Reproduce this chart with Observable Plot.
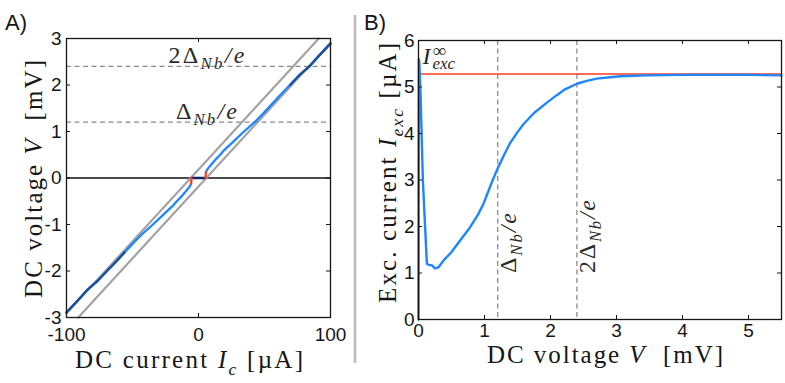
<!DOCTYPE html>
<html><head><meta charset="utf-8">
<script src="https://cdn.jsdelivr.net/npm/d3@7"></script>
<script src="https://cdn.jsdelivr.net/npm/@observablehq/plot@0.6"></script>
<style>
html,body{margin:0;padding:0;background:#fff;}
#wrap{position:relative;width:785px;height:383px;overflow:hidden;background:#fff;}
#wrap svg{position:absolute;top:0;}
</style></head><body><div id="wrap"></div>
<script>
// ---------- data ----------
// Panel A: current–voltage characteristic
const currentTicks = [-100, 0, 100];
const voltageTicksA = [-3, -2, -1, 0, 1, 2, 3];
const gapVoltages = [1.2, 2.4];
const gapLabelPrefix = ["Δ", "2Δ"];

const ivCurrentPos = [5.6, 6.5, 8, 10, 13, 16.5, 19.5, 27, 34.5, 42.5, 49.5, 56, 62.5, 69.3, 76, 84, 92, 100];
const ivVoltagePos = [0.12, 0.18, 0.23, 0.3, 0.4, 0.5, 0.6, 0.8, 1.0, 1.2, 1.4, 1.6, 1.8, 2.0, 2.2, 2.4, 2.65, 2.89];
const ivCurrentNeg = [-5.6, -6.5, -8, -10, -13, -16.5, -19.5, -27, -34.5, -42.5, -49.5, -56, -62.5, -69.3, -76, -84, -92, -100];
const ivVoltageNeg = [-0.12, -0.18, -0.23, -0.3, -0.4, -0.5, -0.6, -0.8, -1.0, -1.2, -1.4, -1.6, -1.8, -2.0, -2.2, -2.4, -2.65, -2.89];
const superCurrent = [-5.3, 5.3];
const superVoltage = [0, 0];
const jumpPosCurrent = [5.3, 5.6];
const jumpPosVoltage = [0, 0.12];
const jumpNegCurrent = [-5.3, -5.6];
const jumpNegVoltage = [0, -0.12];
const ohmicUpperCurrent = [-100, 91.1];
const ohmicUpperVoltage = [-2.91, 3];
const ohmicLowerCurrent = [-91.1, 100];
const ohmicLowerVoltage = [-3, 2.91];

// Panel B: excess current vs voltage
const voltageTicksB = [0, 1, 2, 3, 4, 5];
const excTicks = [0, 1, 2, 3, 4, 5, 6];
const excVoltage = [0, 0.005, 0.012, 0.03, 0.066, 0.127, 0.16, 0.2, 0.25, 0.3, 0.38, 0.5, 0.63, 0.78, 0.9, 0.985, 1.11, 1.2, 1.3, 1.39, 1.5, 1.59, 1.75, 1.95, 2.1, 2.22, 2.4, 2.55, 2.7, 2.9, 3.06, 3.46, 4.0, 4.5, 5.0, 5.5];
const excCurrent = [0, 5.6, 5.55, 4.9, 3.0, 1.2, 1.17, 1.17, 1.1, 1.12, 1.27, 1.45, 1.7, 1.98, 2.25, 2.49, 2.95, 3.25, 3.55, 3.8, 4.03, 4.2, 4.44, 4.67, 4.83, 4.95, 5.07, 5.13, 5.18, 5.21, 5.23, 5.25, 5.26, 5.26, 5.26, 5.25];
const excInfinity = 5.28;

// ---------- helpers ----------
const pts = (xs, ys) => xs.map((x, i) => ({x, y: ys[i]}));
const serif = "'Liberation Serif', 'Times New Roman', serif";
const sans = "'Liberation Sans', Arial, sans-serif";
const lightBlue = "#1f86fb";
const darkBlue = "#1c4f9c";
const ink = "#161616";

const branchPos = pts(ivCurrentPos, ivVoltagePos);
const branchNeg = pts(ivCurrentNeg, ivVoltageNeg);
const darkPos = branchPos.filter(d => d.x >= 69);
const darkNeg = branchNeg.filter(d => d.x <= -54);

function inwardTicks(xt, yt, frameW, frameH, len) {
  return [
    Plot.tickX(xt, {x: d => d, insetTop: frameH - len, stroke: ink, strokeWidth: 1}),
    Plot.tickX(xt, {x: d => d, insetBottom: frameH - len, stroke: ink, strokeWidth: 1}),
    Plot.tickY(yt, {y: d => d, insetRight: frameW - len, stroke: ink, strokeWidth: 1}),
    Plot.tickY(yt, {y: d => d, insetLeft: frameW - len, stroke: ink, strokeWidth: 1})
  ];
}

const dashStyle = {stroke: "#8a8a8a", strokeWidth: 1.3, strokeDasharray: "5,3.5"};

// ---------- panel A ----------
const A = {w: 357, h: 383, ml: 66, mr: 27, mt: 38, mb: 66};
const plotA = Plot.plot({
  width: A.w, height: A.h,
  marginLeft: A.ml, marginRight: A.mr, marginTop: A.mt, marginBottom: A.mb,
  style: {fontFamily: sans, fontSize: "19px", color: ink, background: "transparent", overflow: "visible"},
  x: {domain: [-100, 100], ticks: currentTicks, tickSize: 0, tickPadding: 10, tickFormat: d => String(d), label: null},
  y: {domain: [-3, 3], ticks: voltageTicksA, tickSize: 0, tickPadding: 5, tickFormat: d => String(d), label: null},
  marks: [
    Plot.ruleY(gapVoltages, dashStyle),
    Plot.ruleY([0], {stroke: "#4a4a4a", strokeWidth: 2}),
    Plot.line(pts(ohmicUpperCurrent, ohmicUpperVoltage), {x: "x", y: "y", stroke: "#a3a3a3", strokeWidth: 2.2}),
    Plot.line(pts(ohmicLowerCurrent, ohmicLowerVoltage), {x: "x", y: "y", stroke: "#a3a3a3", strokeWidth: 2.2}),
    Plot.line(branchNeg, {x: "x", y: "y", stroke: lightBlue, strokeWidth: 2.3}),
    Plot.line(branchPos, {x: "x", y: "y", stroke: lightBlue, strokeWidth: 2.3}),
    Plot.line(darkNeg, {x: "x", y: "y", stroke: darkBlue, strokeWidth: 2.3}),
    Plot.line(darkPos, {x: "x", y: "y", stroke: darkBlue, strokeWidth: 2.3}),
    Plot.line(pts(superCurrent, superVoltage), {x: "x", y: "y", stroke: "#0d2660", strokeWidth: 2.3}),
    Plot.line(pts(jumpPosCurrent, jumpPosVoltage), {x: "x", y: "y", stroke: "#ff3a1a", strokeWidth: 2.2}),
    Plot.line(pts(jumpNegCurrent, jumpNegVoltage), {x: "x", y: "y", stroke: "#ff3a1a", strokeWidth: 2.2}),
    Plot.text(gapVoltages, {x: 6, y: d => d, text: (d, i) => gapLabelPrefix[i], dy: -3,
      textAnchor: "middle", lineAnchor: "bottom", fontFamily: serif, fontSize: 24, fill: "#2a2a2a"}),
    Plot.frame({stroke: ink, strokeWidth: 1.3}),
    ...inwardTicks(currentTicks, voltageTicksA, A.w - A.ml - A.mr, A.h - A.mt - A.mb, 4)
  ]
});

// ---------- panel B ----------
const B = {w: 428, h: 383, ml: 61, mr: 4, mt: 40, mb: 64, left: 357};
const plotB = Plot.plot({
  width: B.w, height: B.h,
  marginLeft: B.ml, marginRight: B.mr, marginTop: B.mt, marginBottom: B.mb,
  style: {fontFamily: sans, fontSize: "19px", color: ink, background: "transparent", overflow: "visible"},
  x: {domain: [0, 5.5], ticks: voltageTicksB, tickSize: 0, tickPadding: 4, tickFormat: d => String(d), label: null},
  y: {domain: [0, 6], ticks: excTicks, tickSize: 0, tickPadding: 4, tickFormat: d => String(d), label: null},
  marks: [
    Plot.ruleX(gapVoltages, dashStyle),
    Plot.ruleY([excInfinity], {stroke: "#ff3b1f", strokeWidth: 1.6}),
    Plot.line(pts(excVoltage, excCurrent), {x: "x", y: "y", stroke: lightBlue, strokeWidth: 2.4}),
    Plot.text(gapVoltages, {x: d => d, y: 1.0, text: (d, i) => gapLabelPrefix[i], rotate: -90,
      dx: 18, textAnchor: "start", lineAnchor: "bottom", fontFamily: serif, fontSize: 24, fill: "#2a2a2a"}),
    Plot.text([excInfinity], {x: 0, y: d => d, text: () => "I", dx: 4, dy: -10, textAnchor: "start", lineAnchor: "bottom",
      fontFamily: serif, fontStyle: "italic", fontSize: 24, fill: "#2a2a2a"}),
    Plot.text([excInfinity], {x: 0, y: d => d, text: () => "∞", dx: 14, dy: -17, textAnchor: "start", lineAnchor: "bottom",
      fontFamily: serif, fontSize: 19, fill: "#2a2a2a"}),
    Plot.text([excInfinity], {x: 0, y: d => d, text: () => "exc", dx: 14, dy: -5, textAnchor: "start", lineAnchor: "bottom",
      fontFamily: serif, fontStyle: "italic", fontSize: 17, fill: "#2a2a2a"}),
    Plot.frame({stroke: ink, strokeWidth: 1.3}),
    ...inwardTicks(voltageTicksB, excTicks, B.w - B.ml - B.mr, B.h - B.mt - B.mb, 4)
  ]
});

const wrap = document.getElementById("wrap");
plotA.style.left = "0px";
plotB.style.left = B.left + "px";
wrap.appendChild(plotA);
wrap.appendChild(plotB);

// subscript "Nb" and "/e" on the gap labels
const gapLabelLength = {A: [61, 76], B: [60, 73]};
for (const [key, svg] of [["A", plotA], ["B", plotB]]) {
  d3.select(svg).selectAll("text")
    .filter(function() { return gapLabelPrefix.includes(this.textContent); })
    .each(function() {
      const t = d3.select(this);
      const i = gapLabelPrefix.indexOf(this.textContent);
      t.append("tspan").attr("font-style", "italic").attr("font-size", "70%").attr("dy", "0.35em").text("Nb");
      t.append("tspan").attr("font-style", "italic").attr("dy", "-0.245em").text("/e");
      t.attr("textLength", gapLabelLength[key][i]).attr("lengthAdjust", "spacing");
    });
}

// ---------- overlay: axis titles, panel letters, separator ----------
const ov = d3.select(wrap).append("svg").attr("width", 785).attr("height", 383).style("left", "0px");
ov.append("line").attr("x1", 355).attr("x2", 355).attr("y1", 15).attr("y2", 363)
  .attr("stroke", "#bdbdbd").attr("stroke-width", 2.5);
ov.append("text").attr("x", 5).attr("y", 30).attr("font-family", sans).attr("font-size", 22).attr("fill", ink).text("A)");
ov.append("text").attr("x", 364).attr("y", 30).attr("font-family", sans).attr("font-size", 22).attr("fill", ink).text("B)");

function mathLabel(parts, {x, y, rotate = 0, size = 25, len}) {
  const t = ov.append("text").attr("transform", `translate(${x},${y}) rotate(${rotate})`)
    .attr("text-anchor", "middle").attr("font-family", serif).attr("font-size", size).attr("fill", ink);
  if (len) t.attr("textLength", len).attr("lengthAdjust", "spacing");
  let shift = 0;
  for (const [s, kind] of parts) {
    const ts = t.append("tspan").text(s);
    let target = 0;
    if (kind === "i") ts.attr("font-style", "italic");
    if (kind === "sub") { ts.attr("font-style", "italic").attr("font-size", size * 0.7); target = size * 0.28; }
    if (target !== shift) { ts.attr("dy", target - shift); shift = target; }
  }
}
mathLabel([["DC current ", ""], ["I", "i"], ["c", "sub"], [" [µA]", ""]], {x: 189, y: 368, len: 228});
mathLabel([["DC voltage ", ""], ["V", "i"], ["\u00a0\u00a0[mV]", ""]], {x: 42, y: 179, rotate: -90, len: 238});
mathLabel([["DC voltage ", ""], ["V", "i"], ["\u00a0\u00a0[mV]", ""]], {x: 605, y: 363, len: 236});
mathLabel([["Exc. current ", ""], ["I", "i"], ["exc", "sub"], [" [µA]", ""]], {x: 396, y: 173, rotate: -90, len: 260});
</script>
</body></html>
